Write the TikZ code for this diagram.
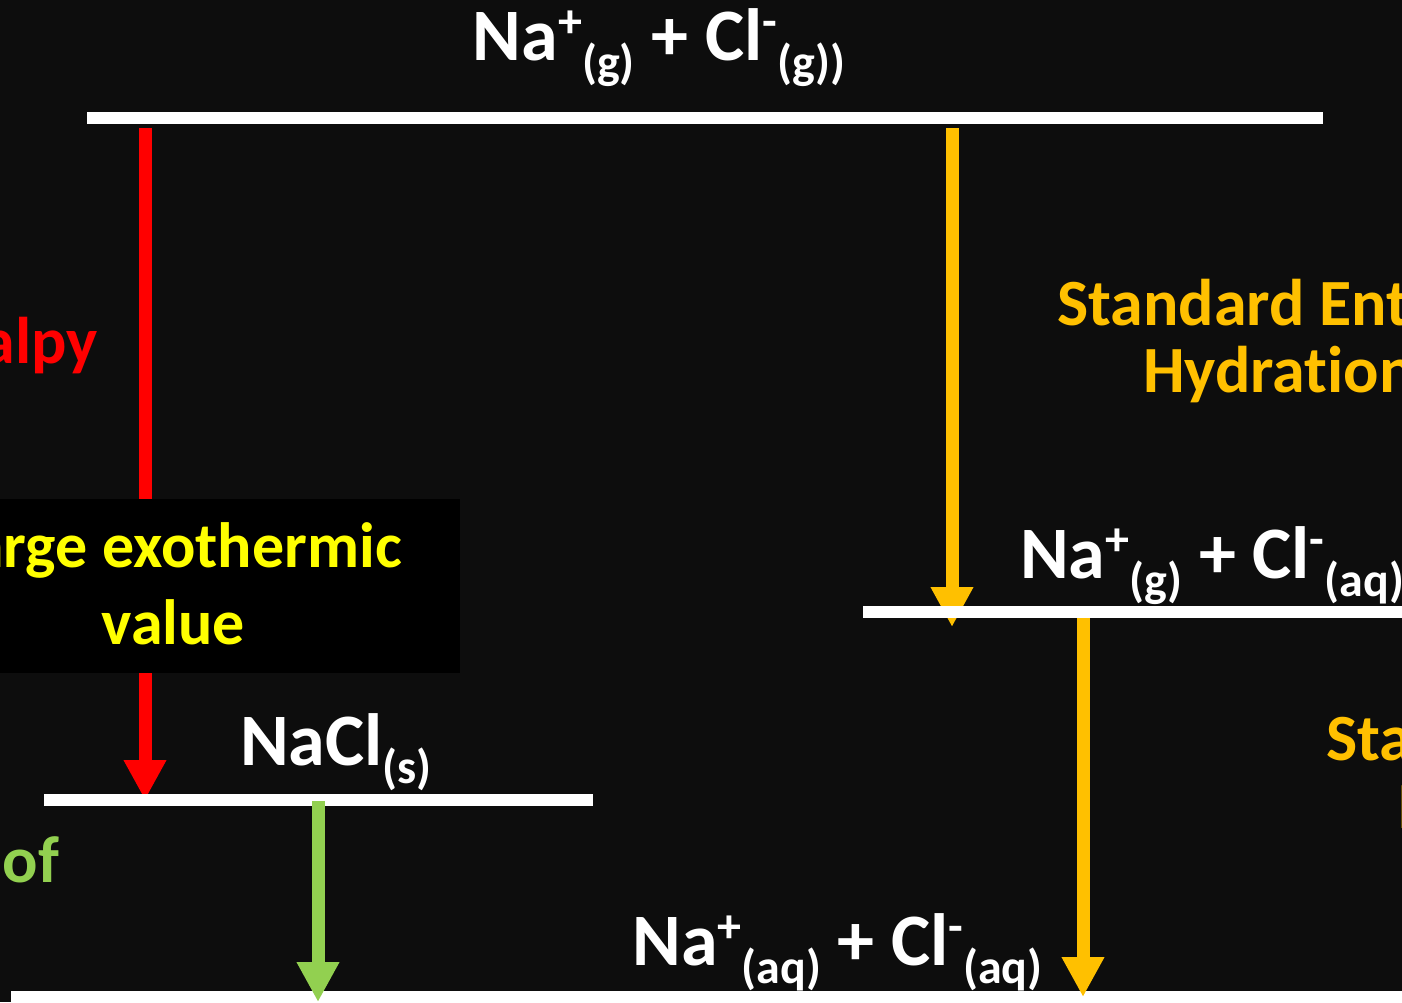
\documentclass[tikz,border=0pt]{standalone}
\usepackage{fontspec}
\setmainfont{Carlito}[Ligatures=NoCommon]
\usetikzlibrary{arrows.meta}
\definecolor{bg}{HTML}{0D0D0D}
\definecolor{hred}{HTML}{FF0000}
\definecolor{hgold}{HTML}{FFC000}
\definecolor{hgreen}{HTML}{92D050}
\definecolor{hyellow}{HTML}{FFFF00}
\newcommand\chsup[1]{\raisebox{0.3em}{\fontsize{48}{48}\selectfont #1}}
\newcommand\chsub[1]{\raisebox{-0.25em}{\fontsize{48}{48}\selectfont #1}}
\begin{document}
\begin{tikzpicture}[x=1pt,y=-1pt,
  level/.style={line width=12pt, white},
  chem/.style={text=white, font=\bfseries\fontsize{74}{80}\selectfont, inner sep=0pt, anchor=base},
  lbl/.style={font=\bfseries\fontsize{66}{68}\selectfont, inner sep=0pt},
  boxtxt/.style={font=\bfseries\fontsize{64}{68}\selectfont, inner sep=0pt, text=hyellow, anchor=base},
  harrow/.style={line width=13pt, -{Triangle[width=40pt,length=40pt]}},
]
\useasboundingbox (0,0) rectangle (1402,1002);
\fill[bg] (0,0) rectangle (1402,1002);
\clip (0,0) rectangle (1402,1002);
% level end points
\coordinate (topL) at (87,117.5);   \coordinate (topR) at (1323,117.5);
\coordinate (saltL) at (44,800);    \coordinate (saltR) at (593,800);
\coordinate (midL) at (863,611.5);  \coordinate (midR) at (1420,611.5);
\coordinate (botL) at (11,997);     \coordinate (botR) at (1420,997);
% arrow end points
\coordinate (rA) at (145,128);  \coordinate (rB) at (145,800);
\coordinate (g1A) at (952,128); \coordinate (g1B) at (952,627);
\coordinate (g2A) at (1083,618); \coordinate (g2B) at (1083,997);
\coordinate (grA) at (318,801); \coordinate (grB) at (318,1002);
% arrows under the levels
\draw[harrow, hred] (rA) -- (rB);
\draw[harrow, hgold] (g1A) -- (g1B);
% levels
\draw[level] (topL) -- (topR);
\draw[level] (saltL) -- (saltR);
\draw[level] (midL) -- (midR);
\draw[level] (botL) -- (botR);
% arrows over the levels
\draw[harrow, hgold] (g2A) -- (g2B);
\draw[harrow, hgreen] (grA) -- (grB);
% box
\node[fill=black, minimum width=573pt, minimum height=174pt, inner sep=0pt] (box) at (173.5,586) {};
\node[boxtxt] (box1) at (173.5,567) {Large exothermic};
\node[boxtxt] (box2) at (173.5,644) {value};
% species
\node[chem] (s1) at (659,60) {Na\chsup{+}\chsub{(g)} + Cl\chsup{-}\chsub{(g))}};
\node[chem, anchor=base west] (s2) at (1020,578) {Na\chsup{+}\chsub{(g)} + Cl\chsup{-}\chsub{(aq)}};
\node[chem] (s3) at (336,765) {NaCl\chsub{(s)}};
\node[chem] (s4) at (837.5,965) {Na\chsup{+}\chsub{(aq)} + Cl\chsup{-}\chsub{(aq)}};
% labels
\node[lbl, text=hred, anchor=base east] (lat) at (98,363) {Lattice Enthalpy};
\node[lbl, text=hgreen, anchor=base east] (sol) at (59,882) {Enthalpy of};
\node[lbl, text=hgold, anchor=base west] (h1a) at (1057,325) {Standard Enthalpy};
\node[lbl, text=hgold, anchor=base west] (h1b) at (1143,392) {Hydration};
\node[lbl, text=hgold, anchor=base west] (h2a) at (1326,760) {Standard Enthalpy};
\node[lbl, text=hgold, anchor=base west] (h2b) at (1398,828) {Hydration};
\end{tikzpicture}
\end{document}
